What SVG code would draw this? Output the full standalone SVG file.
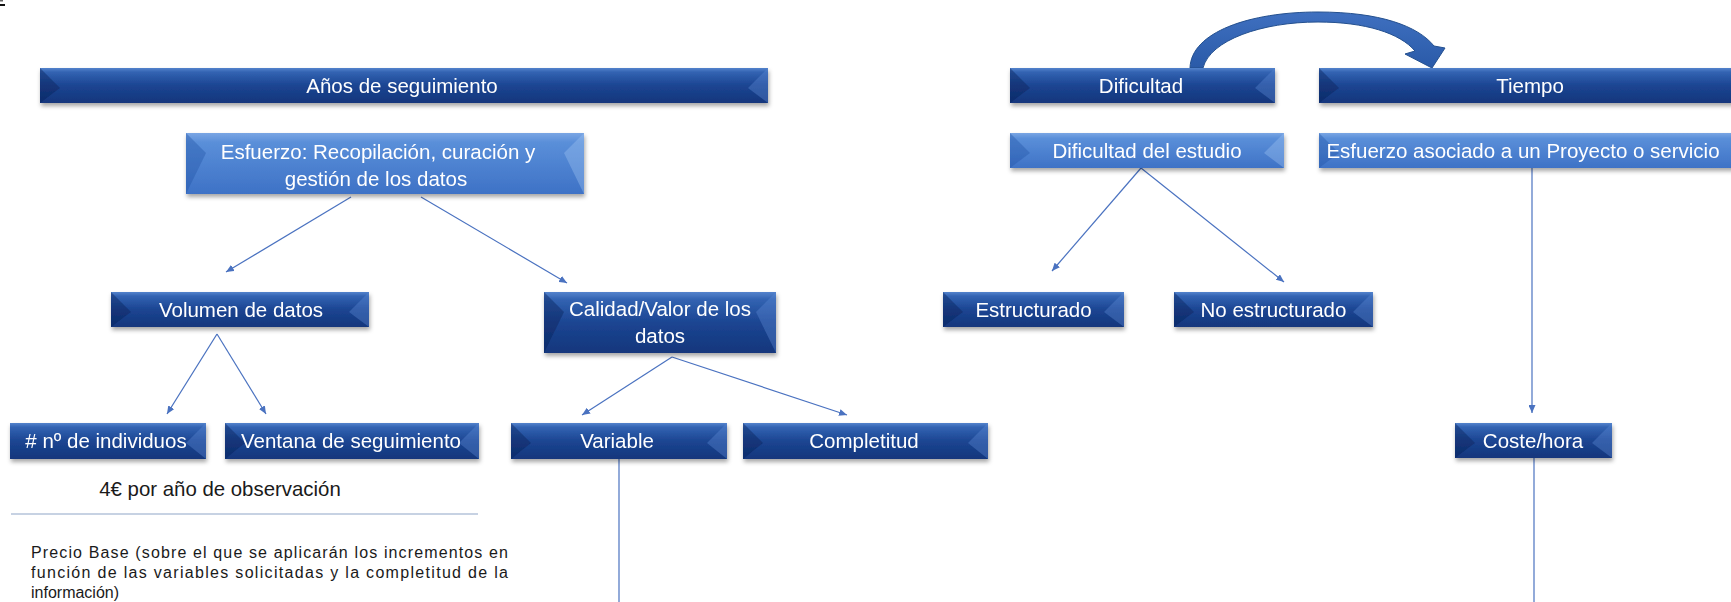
<svg xmlns="http://www.w3.org/2000/svg" width="1731" height="602" viewBox="0 0 1731 602">
<defs>
<style>
.dk{fill:url(#gDark)}
.lt{fill:url(#gLight)}
.fl{fill:#071f55;opacity:.4}
.fr{fill:#5a88d2;opacity:.4}
.flL{fill:#2456a8;opacity:.4}
.frL{fill:#9cc0f0;opacity:.4}
.lbl{font-family:"Liberation Sans",Arial,sans-serif;font-size:20.5px;fill:#ffffff;text-anchor:middle}
.cn{stroke:#4a72c0;stroke-width:1.2;fill:none}
.plain{font-family:"Liberation Sans",Arial,sans-serif;fill:#1a1a1a}
</style>
<linearGradient id="gDark" x1="0" y1="0" x2="0" y2="1">
<stop offset="0" stop-color="#5483cc"/>
<stop offset="0.12" stop-color="#3263b2"/>
<stop offset="0.5" stop-color="#1c4592"/>
<stop offset="1" stop-color="#12367c"/>
</linearGradient>
<linearGradient id="gLight" x1="0" y1="0" x2="0" y2="1">
<stop offset="0" stop-color="#7aa6e4"/>
<stop offset="0.15" stop-color="#5a8fd9"/>
<stop offset="1" stop-color="#3e72c6"/>
</linearGradient>
<linearGradient id="gArrow" x1="0" y1="0" x2="0" y2="1">
<stop offset="0" stop-color="#3f70c0"/>
<stop offset="1" stop-color="#2a5aa8"/>
</linearGradient>
<filter id="sh" x="-5%" y="-20%" width="110%" height="160%">
<feDropShadow dx="1" dy="3" stdDeviation="2" flood-color="#000" flood-opacity="0.35"/>
</filter>
<marker id="ah" viewBox="0 0 8 7" refX="8" refY="3.5" markerWidth="8" markerHeight="7" markerUnits="userSpaceOnUse" orient="auto">
<path d="M0,0 L8,3.5 L0,7 z" fill="#4a72c0"/>
</marker>
</defs>
<rect x="0" y="0" width="1731" height="602" fill="#ffffff"/>
<rect x="0" y="0" width="3" height="1.5" fill="#666"/>
<rect x="0" y="4" width="5" height="2" fill="#111"/>

<g id="connectors">
<line class="cn" x1="351" y1="197" x2="226" y2="272" marker-end="url(#ah)"/>
<line class="cn" x1="421" y1="197" x2="567" y2="283" marker-end="url(#ah)"/>
<line class="cn" x1="217" y1="334" x2="167" y2="414" marker-end="url(#ah)"/>
<line class="cn" x1="217" y1="334" x2="266" y2="414" marker-end="url(#ah)"/>
<line class="cn" x1="672" y1="357" x2="582" y2="415" marker-end="url(#ah)"/>
<line class="cn" x1="672" y1="357" x2="847" y2="415" marker-end="url(#ah)"/>
<line class="cn" x1="619" y1="459" x2="619" y2="602"/>
<line class="cn" x1="1141" y1="168" x2="1052" y2="271" marker-end="url(#ah)"/>
<line class="cn" x1="1141" y1="168" x2="1284" y2="282" marker-end="url(#ah)"/>
<line class="cn" x1="1532" y1="168" x2="1532" y2="413" marker-end="url(#ah)"/>
<line class="cn" x1="1534" y1="458" x2="1534" y2="602"/>
<path id="curved-arrow" d="M1190,68 C1191,32 1250,12 1318,12 C1380,12 1418,26 1434,46 L1445,48 L1432,68 L1405,54 L1415,51 C1400,33 1365,22 1318,22 C1262,22 1210,40 1203,68 Z" fill="url(#gArrow)" stroke="#24508f" stroke-width="1"/>
</g>

<g id="n-anos" filter="url(#sh)">
<rect class="dk" x="40" y="68" width="728" height="35"/>
<polygon class="fl" points="40,68 60,88 40,103"/>
<polygon class="fr" points="768,68 748,88 768,103"/>
<text class="lbl" x="402" y="92.5">Años de seguimiento</text>
</g>

<g id="n-esfuerzo" filter="url(#sh)">
<rect class="lt" x="186" y="133" width="398" height="61"/>
<polygon class="flL" points="186,133 206,153 186,194"/>
<polygon class="frL" points="584,133 564,153 584,194"/>
<text class="lbl" x="378" y="159">Esfuerzo: Recopilación, curación y</text>
<text class="lbl" x="376" y="186">gestión de los datos</text>
</g>

<g id="n-volumen" filter="url(#sh)">
<rect class="dk" x="111" y="292" width="258" height="35"/>
<polygon class="fl" points="111,292 131,312 111,327"/>
<polygon class="fr" points="369,292 349,312 369,327"/>
<text class="lbl" x="241" y="316.5">Volumen de datos</text>
</g>

<g id="n-calidad" filter="url(#sh)">
<rect class="dk" x="544" y="292" width="232" height="61"/>
<polygon class="fl" points="544,292 564,312 544,353"/>
<polygon class="fr" points="776,292 756,312 776,353"/>
<text class="lbl" x="660" y="316">Calidad/Valor de los</text>
<text class="lbl" x="660" y="343">datos</text>
</g>

<g id="n-individuos" filter="url(#sh)">
<rect class="dk" x="10" y="423" width="196" height="36"/>
<polygon class="fr" points="206,423 186,443 206,459"/>
<text class="lbl" x="106" y="448"># nº de individuos</text>
</g>

<g id="n-ventana" filter="url(#sh)">
<rect class="dk" x="225" y="423" width="254" height="36"/>
<polygon class="fl" points="225,423 245,443 225,459"/>
<polygon class="fr" points="479,423 459,443 479,459"/>
<text class="lbl" x="351" y="448">Ventana de seguimiento</text>
</g>

<g id="n-variable" filter="url(#sh)">
<rect class="dk" x="511" y="423" width="216" height="36"/>
<polygon class="fl" points="511,423 531,443 511,459"/>
<polygon class="fr" points="727,423 707,443 727,459"/>
<text class="lbl" x="617" y="448">Variable</text>
</g>

<g id="n-completitud" filter="url(#sh)">
<rect class="dk" x="743" y="423" width="245" height="36"/>
<polygon class="fl" points="743,423 763,443 743,459"/>
<polygon class="fr" points="988,423 968,443 988,459"/>
<text class="lbl" x="864" y="448">Completitud</text>
</g>

<g id="n-dificultad" filter="url(#sh)">
<rect class="dk" x="1010" y="68" width="265" height="35"/>
<polygon class="fl" points="1010,68 1030,88 1010,103"/>
<polygon class="fr" points="1275,68 1255,88 1275,103"/>
<text class="lbl" x="1141" y="92.5">Dificultad</text>
</g>

<g id="n-tiempo" filter="url(#sh)">
<rect class="dk" x="1319" y="68" width="425" height="35"/>
<polygon class="fl" points="1319,68 1339,88 1319,103"/>
<text class="lbl" x="1530" y="92.5">Tiempo</text>
</g>

<g id="n-dificultad-estudio" filter="url(#sh)">
<rect class="lt" x="1010" y="133" width="274" height="35"/>
<polygon class="flL" points="1010,133 1030,153 1010,168"/>
<polygon class="frL" points="1284,133 1264,153 1284,168"/>
<text class="lbl" x="1147" y="157.5">Dificultad del estudio</text>
</g>

<g id="n-esfuerzo-asociado" filter="url(#sh)">
<rect class="lt" x="1319" y="133" width="420" height="35"/>
<polygon class="flL" points="1319,133 1339,153 1319,168"/>
<text class="lbl" x="1523" y="157.5">Esfuerzo asociado a un Proyecto o servicio</text>
</g>

<g id="n-estructurado" filter="url(#sh)">
<rect class="dk" x="943" y="292" width="181" height="35"/>
<polygon class="fl" points="943,292 963,312 943,327"/>
<polygon class="fr" points="1124,292 1104,312 1124,327"/>
<text class="lbl" x="1033.5" y="316.5">Estructurado</text>
</g>

<g id="n-no-estructurado" filter="url(#sh)">
<rect class="dk" x="1174" y="292" width="199" height="35"/>
<polygon class="fl" points="1174,292 1194,312 1174,327"/>
<polygon class="fr" points="1373,292 1353,312 1373,327"/>
<text class="lbl" x="1273.5" y="316.5">No estructurado</text>
</g>

<g id="n-coste" filter="url(#sh)">
<rect class="dk" x="1455" y="423" width="157" height="35"/>
<polygon class="fl" points="1455,423 1475,443 1455,458"/>
<polygon class="fr" points="1612,423 1592,443 1612,458"/>
<text class="lbl" x="1533" y="447.5">Coste/hora</text>
</g>

<g id="notes">
<text class="plain" x="220" y="496" font-size="20.4" text-anchor="middle">4€ por año de observación</text>
<line x1="11" y1="514" x2="478" y2="514" stroke="#8fa6c8" stroke-width="1.2"/>
<text class="plain" x="31" y="558" font-size="16" textLength="477" lengthAdjust="spacing">Precio Base (sobre el que se aplicarán los incrementos en</text>
<text class="plain" x="31" y="578" font-size="16" textLength="477" lengthAdjust="spacing">función de las variables solicitadas y la completitud de la</text>
<text class="plain" x="31" y="597.5" font-size="16">información)</text>
</g>
</svg>
